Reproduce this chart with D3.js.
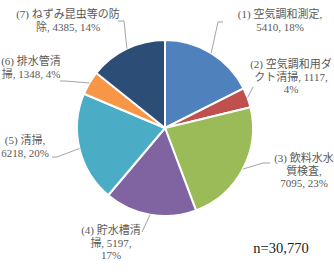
<!DOCTYPE html>
<html>
<head>
<meta charset="utf-8">
<script src="https://cdn.jsdelivr.net/npm/d3@7"></script>
<style>
  body { margin: 0; background: #fff; }
  svg { display: block; }
</style>
</head>
<body>
<div class="chart-container"></div>
<script>
const width = 334;
const height = 273;

// data
const categories = [
  "(1) 空気調和測定",
  "(2) 空気調和用ダクト清掃",
  "(3) 飲料水水質検査",
  "(4) 貯水槽清掃",
  "(5) 清掃",
  "(6) 排水管清掃",
  "(7) ねずみ昆虫等の防除"
];
const values = [5410, 1117, 7095, 5197, 6218, 1348, 4385];
const colors = ["#4f81bd", "#c0504d", "#9bbb59", "#8064a2", "#4bacc6", "#f79646", "#2c4d75"];
const totalLabel = "n=30,770";

// label layout: text centre x, first baseline y, line breaks (char index), leader elbow points
const labelLayout = [
  { x: 280, y: 18, breaks: [11], leader: [[218, 22], [223, 22]] },
  { x: 291, y: 68, breaks: [10, 21], leader: [[253, 87]] },
  { x: 304, y: 162, breaks: [8, 12], leader: [[263, 163], [270, 163]] },
  { x: 111, y: 234, breaks: [8, 16], leader: [[142, 232]] },
  { x: 25, y: 144, breaks: [7], leader: [[57, 157], [52, 157]] },
  { x: 31, y: 65, breaks: [8], leader: [[65, 81], [60, 81]] },
  { x: 68, y: 18, breaks: [12], leader: [[124, 21], [118, 21]] }
];

const cx = 165, cy = 128, r = 88;
const lineHeight = 12.5;
const fontFamily = "'Liberation Serif', 'Noto Sans CJK JP', serif";

const total = d3.sum(values);
const data = values.map((v, i) => ({ name: categories[i], value: v, i: i }));

const svg = d3.select(".chart-container")
  .append("svg")
  .attr("width", width)
  .attr("height", height);

const pie = d3.pie().sort(null).value(d => d.value);
const arc = d3.arc().innerRadius(0).outerRadius(r);
const edge = d3.arc().innerRadius(r).outerRadius(r);

const g = svg.append("g").attr("transform", "translate(" + cx + "," + cy + ")");

const arcs = pie(data);

g.selectAll("path.slice")
  .data(arcs)
  .join("path")
  .attr("class", "slice")
  .attr("d", arc)
  .attr("fill", d => colors[d.data.i])
  .attr("stroke", "#fff")
  .attr("stroke-width", 2)
  .attr("stroke-linejoin", "round");

// leader lines
const line = d3.line();
svg.selectAll("path.leader")
  .data(arcs)
  .join("path")
  .attr("class", "leader")
  .attr("d", d => {
    const p = edge.centroid(d);
    const pts = [[cx + p[0], cy + p[1]]].concat(labelLayout[d.data.i].leader);
    return line(pts);
  })
  .attr("fill", "none")
  .attr("stroke", "#8c8c8c")
  .attr("stroke-width", 0.8);

// data labels
function splitLines(str, breaks) {
  const out = [];
  let start = 0;
  breaks.forEach(b => {
    out.push(str.slice(start, b).trim());
    start = b;
  });
  out.push(str.slice(start).trim());
  return out;
}

const labels = svg.selectAll("text.label")
  .data(arcs)
  .join("text")
  .attr("class", "label")
  .attr("text-anchor", "middle")
  .attr("font-family", fontFamily)
  .attr("font-size", 11)
  .attr("fill", "#595959");

labels.each(function(d) {
  const lay = labelLayout[d.data.i];
  const pct = Math.round(d.data.value / total * 100);
  const full = d.data.name + ", " + d.data.value + ", " + pct + "%";
  const lines = splitLines(full, lay.breaks);
  d3.select(this).selectAll("tspan")
    .data(lines)
    .join("tspan")
    .attr("x", lay.x)
    .attr("y", (t, k) => lay.y + k * lineHeight)
    .text(t => t);
});

svg.append("text")
  .attr("x", 281)
  .attr("y", 253)
  .attr("text-anchor", "middle")
  .attr("font-family", fontFamily)
  .attr("font-size", 14.5)
  .attr("fill", "#222")
  .text(totalLabel);
</script>
</body>
</html>
